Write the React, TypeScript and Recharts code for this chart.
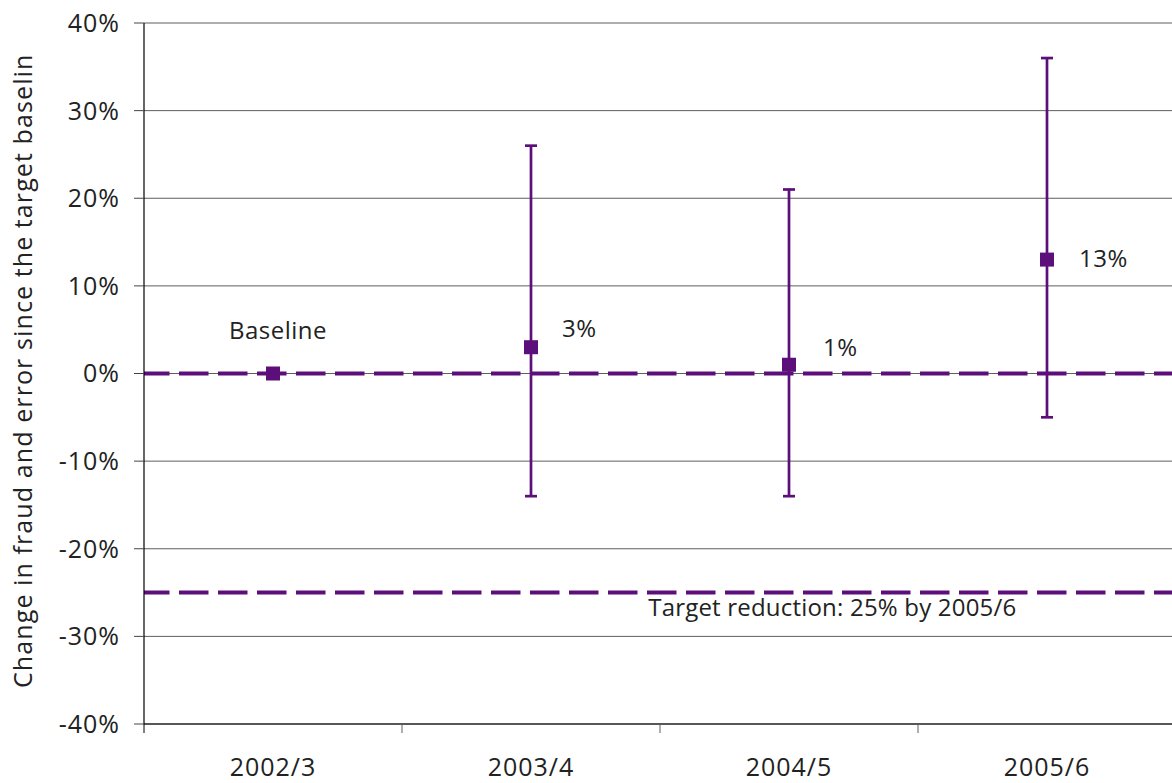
import React from 'react';
import {
  ComposedChart,
  Line,
  XAxis,
  YAxis,
  CartesianGrid,
  ReferenceLine,
  ErrorBar,
  LabelList,
} from 'recharts';

// ---- data ----
const years = ['2002/3', '2003/4', '2004/5', '2005/6'];
const change = [0, 3, 1, 13];
const lowerBound = [0, -14, -14, -5];
const upperBound = [0, 26, 21, 36];
const yTicks = [-40, -30, -20, -10, 0, 10, 20, 30, 40];
const targetLevel = -25;
const baselineText = 'Baseline';
const targetText = 'Target reduction: 25% by 2005/6';
const yAxisTitle = 'Change in fraud and error since the target baseline';

const data = years.map((year, i) => ({
  year,
  value: change[i],
  err: [change[i] - lowerBound[i], upperBound[i] - change[i]],
}));

// ---- styling ----
const PURPLE = '#5c0f7b';
const TEXT = '#222222';
const GRID = '#5e5e5e';
const FONT = "'Open Sans', sans-serif";

// where each point label sits relative to its marker
const LABEL_NUDGE = [
  { dx: 5, dy: -35, anchor: 'middle' },
  { dx: 31, dy: -10, anchor: 'start' },
  { dx: 34, dy: -9, anchor: 'start' },
  { dx: 32, dy: 7, anchor: 'start' },
];

const SquareDot = (props: any) => {
  const { cx, cy } = props;
  if (cx == null || cy == null) return null;
  return <rect x={cx - 7} y={cy - 7} width={14} height={14} fill={PURPLE} />;
};

const PointLabel = (props: any) => {
  const { x, y, value, index } = props;
  const n = LABEL_NUDGE[index] || LABEL_NUDGE[1];
  const text = index === 0 ? baselineText : `${value}%`;
  return (
    <text
      x={x + n.dx}
      y={y + n.dy}
      textAnchor={n.anchor}
      fontFamily={FONT}
      fontSize={24}
      fill={TEXT}
      letterSpacing={0.5}
    >
      {text}
    </text>
  );
};

// category label centred in its band, tick mark on the band's left edge
const YearTick = (props: any) => {
  const { x, y, payload } = props;
  const half = payload.offset || 0;
  return (
    <g>
      <line x1={x - half} y1={y} x2={x - half} y2={y + 9} stroke={payload.index === 0 ? '#000' : GRID} strokeWidth={1} />
      <text
        x={x}
        y={y + 52}
        textAnchor="middle"
        fontFamily={FONT}
        fontSize={25}
        fill={TEXT}
        letterSpacing={1}
      >
        {payload.value}
      </text>
    </g>
  );
};

// rotated axis title, cut off at the top like its text box
const YTitle = () => (
  <g>
    <defs>
      <clipPath id="y-title-clip" clipPathUnits="userSpaceOnUse">
        <rect x={0} y={56} width={60} height={700} />
      </clipPath>
    </defs>
    <g clipPath="url(#y-title-clip)">
      <text
        x={32}
        y={688}
        transform="rotate(-90, 32, 688)"
        textAnchor="start"
        fontFamily={FONT}
        fontSize={25}
        fill={TEXT}
        letterSpacing={1.1}
      >
        {yAxisTitle}
      </text>
    </g>
  </g>
);

const TargetLabel = (props: any) => {
  const { viewBox } = props;
  if (!viewBox) return null;
  return (
    <text
      x={viewBox.x + viewBox.width * 0.667}
      y={viewBox.y + 23}
      textAnchor="middle"
      fontFamily={FONT}
      fontSize={24}
      fill={TEXT}
      letterSpacing={0.2}
    >
      {targetText}
    </text>
  );
};

export default function App() {
  return (
    <div
      style={{
        position: 'absolute',
        left: 0,
        top: 0,
        width: 1172,
        height: 783,
        overflow: 'hidden',
        background: '#fff',
      }}
    >
      <ComposedChart
        width={1180}
        height={783}
        data={data}
        margin={{ top: 23, right: 4, bottom: 0, left: 0 }}
      >
        <CartesianGrid vertical={false} stroke={GRID} strokeWidth={1} />
        <XAxis
          dataKey="year"
          scale="band"
          height={59}
          axisLine={{ stroke: '#000', strokeWidth: 1.2 }}
          tickLine={false}
          tickSize={0}
          tickMargin={0}
          interval={0}
          tick={<YearTick />}
        />
        <YAxis
          type="number"
          domain={[-40, 40]}
          ticks={yTicks}
          interval={0}
          width={144}
          axisLine={{ stroke: '#000', strokeWidth: 1.2 }}
          tickLine={{ stroke: '#444' }}
          tickSize={10}
          tickMargin={14}
          tickFormatter={(v: number) => `${v}%`}
          tick={{ fontFamily: FONT, fontSize: 25, fill: TEXT, letterSpacing: 1 }}
          label={<YTitle />}
        />
        <ReferenceLine
          y={0}
          stroke={PURPLE}
          strokeWidth={4}
          strokeDasharray="29.5 9.5"
          strokeDashoffset={4}
        />
        <ReferenceLine
          y={targetLevel}
          stroke={PURPLE}
          strokeWidth={4}
          strokeDasharray="29.5 9.5"
          strokeDashoffset={4}
          label={<TargetLabel />}
        />
        <Line
          dataKey="value"
          stroke="none"
          isAnimationActive={false}
          dot={<SquareDot />}
          activeDot={false}
        >
          <ErrorBar dataKey="err" direction="y" width={6} stroke={PURPLE} strokeWidth={2.7} />
          <LabelList dataKey="value" content={<PointLabel />} />
        </Line>
      </ComposedChart>
    </div>
  );
}
